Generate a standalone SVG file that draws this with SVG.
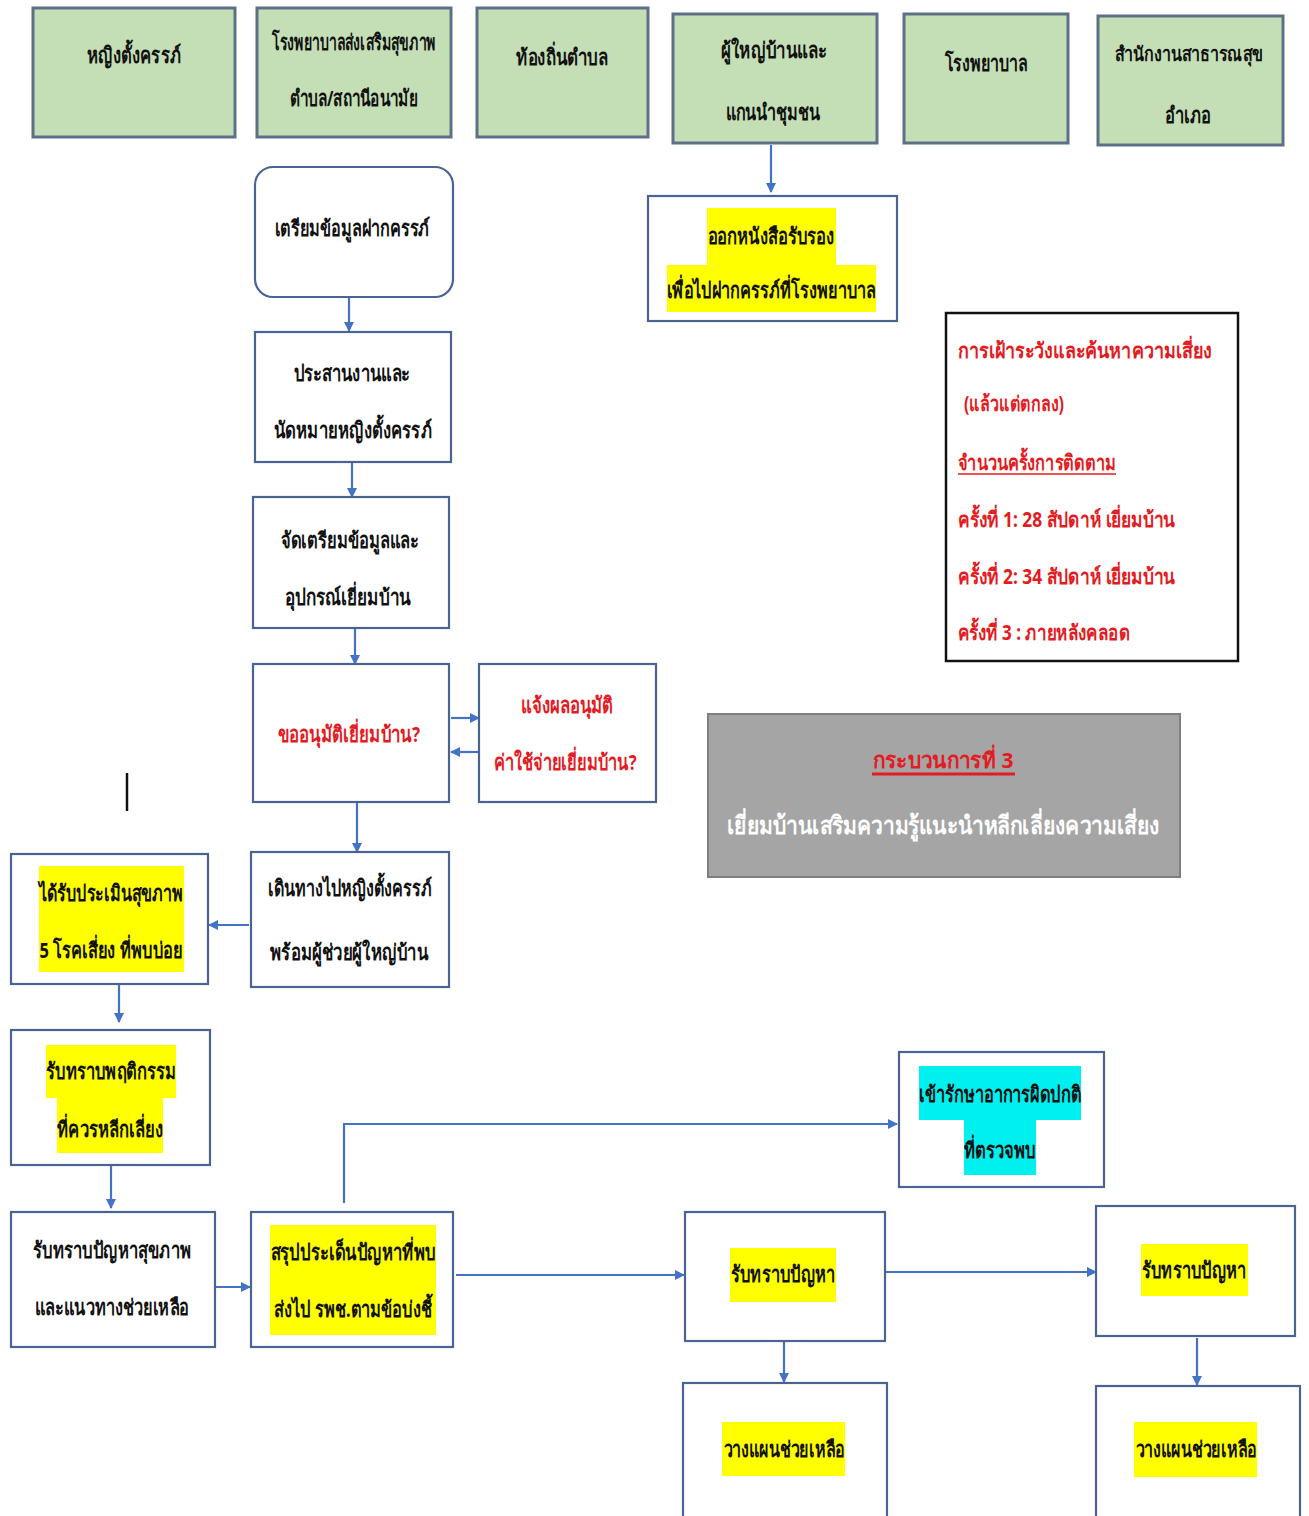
<svg xmlns="http://www.w3.org/2000/svg" width="1309" height="1516" viewBox="0 0 1309 1516">
<defs>
<style>
.g{fill:#c4dfb5;stroke:#5d7088;stroke-width:3}
.b{fill:#fff;stroke:#4a6392;stroke-width:2.2}
.t{font-family:"Noto Sans","DejaVu Sans",sans-serif;font-size:22px;fill:#111;text-anchor:middle;font-weight:bold}
.r{fill:#e31b23}
.s{text-anchor:start;font-size:21px}
.w{fill:#fff}
.y{fill:#ffff00}
.c{fill:#00f0f0}
.cn{stroke:#4472c4;stroke-width:2.2;fill:none}
</style>
<marker id="ah" markerWidth="10" markerHeight="10" refX="9" refY="5" orient="auto" markerUnits="userSpaceOnUse">
<path d="M0,0 L10,5 L0,10 Z" fill="#4472c4"/>
</marker>
</defs>
<rect width="1309" height="1516" fill="#fff"/>

<g id="connectors">
<line class="cn" x1="771" y1="145" x2="771" y2="192" marker-end="url(#ah)"/>
<line class="cn" x1="349" y1="297" x2="349" y2="331" marker-end="url(#ah)"/>
<line class="cn" x1="352" y1="462" x2="352" y2="497" marker-end="url(#ah)"/>
<line class="cn" x1="355" y1="628" x2="355" y2="664" marker-end="url(#ah)"/>
<line class="cn" x1="451" y1="718" x2="479" y2="718" marker-end="url(#ah)"/>
<line class="cn" x1="479" y1="752" x2="451" y2="752" marker-end="url(#ah)"/>
<line class="cn" x1="357" y1="802" x2="357" y2="852" marker-end="url(#ah)"/>
<line class="cn" x1="249" y1="925" x2="209" y2="925" marker-end="url(#ah)"/>
<line class="cn" x1="119" y1="984" x2="119" y2="1022" marker-end="url(#ah)"/>
<line class="cn" x1="111" y1="1165" x2="111" y2="1208" marker-end="url(#ah)"/>
<line class="cn" x1="215" y1="1287" x2="250" y2="1287" marker-end="url(#ah)"/>
<polyline class="cn" points="344,1203 344,1124 897,1124" marker-end="url(#ah)"/>
<line class="cn" x1="456" y1="1275" x2="684" y2="1275" marker-end="url(#ah)"/>
<line class="cn" x1="885" y1="1272" x2="1096" y2="1272" marker-end="url(#ah)"/>
<line class="cn" x1="784" y1="1341" x2="784" y2="1382" marker-end="url(#ah)"/>
<line class="cn" x1="1197" y1="1338" x2="1197" y2="1385" marker-end="url(#ah)"/>
</g>

<line x1="127" y1="773" x2="127" y2="811" stroke="#111" stroke-width="2.5"/>

<g id="n1"><rect class="g" x="33" y="8" width="202" height="129"/>
<text class="t" x="134" y="63" textLength="94" lengthAdjust="spacingAndGlyphs">หญิงตั้งครรภ์</text></g>
<g id="n2"><rect class="g" x="257" y="8" width="194" height="129"/>
<text class="t" x="354" y="50" textLength="164" lengthAdjust="spacingAndGlyphs">โรงพยาบาลส่งเสริมสุขภาพ</text>
<text class="t" x="354" y="106" textLength="128" lengthAdjust="spacingAndGlyphs">ตำบล/สถานีอนามัย</text></g>
<g id="n3"><rect class="g" x="477" y="8" width="171" height="129"/>
<text class="t" x="562" y="65" textLength="92" lengthAdjust="spacingAndGlyphs">ท้องถิ่นตำบล</text></g>
<g id="n4"><rect class="g" x="673" y="14" width="204" height="129"/>
<text class="t" x="774" y="58" textLength="106" lengthAdjust="spacingAndGlyphs">ผู้ใหญ่บ้านและ</text>
<text class="t" x="773" y="120" textLength="95" lengthAdjust="spacingAndGlyphs">แกนนำชุมชน</text></g>
<g id="n5"><rect class="g" x="904" y="14" width="164" height="129"/>
<text class="t" x="986" y="71" textLength="83" lengthAdjust="spacingAndGlyphs">โรงพยาบาล</text></g>
<g id="n6"><rect class="g" x="1098" y="16" width="185" height="129"/>
<text class="t" x="1189" y="61" style="font-size:20px" textLength="149" lengthAdjust="spacingAndGlyphs">สำนักงานสาธารณสุข</text>
<text class="t" x="1188" y="123" textLength="46" lengthAdjust="spacingAndGlyphs">อำเภอ</text></g>

<g id="n7"><rect class="b" x="255" y="167" width="198" height="130" rx="18"/>
<text class="t" x="352" y="236" textLength="155" lengthAdjust="spacingAndGlyphs">เตรียมข้อมูลฝากครรภ์</text></g>

<g id="n8"><rect class="b" x="648" y="196" width="249" height="125"/>
<rect class="y" x="707" y="208" width="129" height="57"/>
<rect class="y" x="667" y="265" width="209" height="47"/>
<text class="t" x="771" y="244" textLength="127" lengthAdjust="spacingAndGlyphs">ออกหนังสือรับรอง</text>
<text class="t" x="771" y="298" textLength="209" lengthAdjust="spacingAndGlyphs">เพื่อไปฝากครรภ์ที่โรงพยาบาล</text></g>

<g id="n9"><rect class="b" x="255" y="332" width="196" height="130"/>
<text class="t" x="352" y="381" textLength="117" lengthAdjust="spacingAndGlyphs">ประสานงานและ</text>
<text class="t" x="353" y="438" textLength="158" lengthAdjust="spacingAndGlyphs">นัดหมายหญิงตั้งครรภ์</text></g>

<g id="n10"><rect class="b" x="253" y="497" width="196" height="131"/>
<text class="t" x="350" y="548" textLength="138" lengthAdjust="spacingAndGlyphs">จัดเตรียมข้อมูลและ</text>
<text class="t" x="348" y="605" textLength="126" lengthAdjust="spacingAndGlyphs">อุปกรณ์เยี่ยมบ้าน</text></g>

<g id="n11"><rect class="b" x="253" y="664" width="196" height="138"/>
<text class="t r" x="349" y="742" textLength="142" lengthAdjust="spacingAndGlyphs">ขออนุมัติเยี่ยมบ้าน?</text></g>

<g id="n12"><rect class="b" x="479" y="664" width="177" height="138"/>
<text class="t r" x="567" y="713" textLength="92" lengthAdjust="spacingAndGlyphs">แจ้งผลอนุมัติ</text>
<text class="t r" x="565" y="770" textLength="143" lengthAdjust="spacingAndGlyphs">ค่าใช้จ่ายเยี่ยมบ้าน?</text></g>

<g id="n13"><rect fill="#fff" stroke="#111" stroke-width="2.5" x="946" y="313" width="292" height="348"/>
<text class="t r s" x="958" y="358" textLength="254" lengthAdjust="spacingAndGlyphs">การเฝ้าระวังและค้นหาความเสี่ยง</text>
<text class="t r s" x="964" y="411" textLength="100" lengthAdjust="spacingAndGlyphs">(แล้วแต่ตกลง)</text>
<text class="t r s" x="958" y="470" textLength="158" lengthAdjust="spacingAndGlyphs">จำนวนครั้งการติดตาม</text>
<line x1="958" y1="474" x2="1116" y2="474" stroke="#e31b23" stroke-width="1.5"/>
<text class="t r s" x="958" y="527" textLength="217" lengthAdjust="spacingAndGlyphs">ครั้งที่ 1: 28 สัปดาห์ เยี่ยมบ้าน</text>
<text class="t r s" x="958" y="584" textLength="217" lengthAdjust="spacingAndGlyphs">ครั้งที่ 2: 34 สัปดาห์ เยี่ยมบ้าน</text>
<text class="t r s" x="958" y="640" textLength="172" lengthAdjust="spacingAndGlyphs">ครั้งที่ 3 : ภายหลังคลอด</text></g>

<g id="n14"><rect fill="#a5a5a5" stroke="#7f7f7f" stroke-width="2" x="708" y="714" width="472" height="163"/>
<text class="t r" x="943" y="768" textLength="141" lengthAdjust="spacingAndGlyphs">กระบวนการที่ 3</text>
<line x1="872" y1="774" x2="1015" y2="774" stroke="#e31b23" stroke-width="3"/>
<text class="t w" x="943" y="834" style="font-size:25px" textLength="433" lengthAdjust="spacingAndGlyphs">เยี่ยมบ้านเสริมความรู้แนะนำหลีกเลี่ยงความเสี่ยง</text></g>

<g id="n15"><rect class="b" x="251" y="852" width="198" height="135"/>
<text class="t" x="350" y="896" textLength="164" lengthAdjust="spacingAndGlyphs">เดินทางไปหญิงตั้งครรภ์</text>
<text class="t" x="349" y="960" textLength="158" lengthAdjust="spacingAndGlyphs">พร้อมผู้ช่วยผู้ใหญ่บ้าน</text></g>

<g id="n16"><rect class="b" x="11" y="854" width="197" height="130"/>
<rect class="y" x="39" y="866" width="145" height="106"/>
<text class="t" x="111" y="901" textLength="144" lengthAdjust="spacingAndGlyphs">ได้รับประเมินสุขภาพ</text>
<text class="t" x="111" y="958" textLength="143" lengthAdjust="spacingAndGlyphs">5 โรคเสี่ยง ที่พบบ่อย</text></g>

<g id="n17"><rect class="b" x="11" y="1030" width="199" height="135"/>
<rect class="y" x="46" y="1045" width="130" height="53"/>
<rect class="y" x="57" y="1098" width="106" height="55"/>
<text class="t" x="111" y="1079" textLength="130" lengthAdjust="spacingAndGlyphs">รับทราบพฤติกรรม</text>
<text class="t" x="110" y="1137" textLength="106" lengthAdjust="spacingAndGlyphs">ที่ควรหลีกเลี่ยง</text></g>

<g id="n18"><rect class="b" x="11" y="1212" width="204" height="135"/>
<text class="t" x="112" y="1258" textLength="158" lengthAdjust="spacingAndGlyphs">รับทราบปัญหาสุขภาพ</text>
<text class="t" x="112" y="1315" textLength="154" lengthAdjust="spacingAndGlyphs">และแนวทางช่วยเหลือ</text></g>

<g id="n19"><rect class="b" x="251" y="1212" width="202" height="135"/>
<rect class="y" x="270" y="1225" width="166" height="110"/>
<text class="t" x="353" y="1260" textLength="165" lengthAdjust="spacingAndGlyphs">สรุปประเด็นปัญหาที่พบ</text>
<text class="t" x="353" y="1317" textLength="158" lengthAdjust="spacingAndGlyphs">ส่งไป รพช.ตามข้อบ่งชี้</text></g>

<g id="n20"><rect class="b" x="899" y="1052" width="205" height="135"/>
<rect class="c" x="919" y="1066" width="162" height="54"/>
<rect class="c" x="964" y="1120" width="72" height="55"/>
<text class="t" x="1000" y="1102" textLength="162" lengthAdjust="spacingAndGlyphs">เข้ารักษาอาการผิดปกติ</text>
<text class="t" x="1000" y="1158" textLength="72" lengthAdjust="spacingAndGlyphs">ที่ตรวจพบ</text></g>

<g id="n21"><rect class="b" x="685" y="1212" width="200" height="129"/>
<rect class="y" x="730" y="1248" width="106" height="54"/>
<text class="t" x="783" y="1282" textLength="104" lengthAdjust="spacingAndGlyphs">รับทราบปัญหา</text></g>

<g id="n22"><rect class="b" x="1096" y="1206" width="199" height="130"/>
<rect class="y" x="1141" y="1244" width="107" height="52"/>
<text class="t" x="1194" y="1278" textLength="104" lengthAdjust="spacingAndGlyphs">รับทราบปัญหา</text></g>

<g id="n23"><rect class="b" x="683" y="1383" width="204" height="140"/>
<rect class="y" x="722" y="1422" width="123" height="54"/>
<text class="t" x="784" y="1457" textLength="121" lengthAdjust="spacingAndGlyphs">วางแผนช่วยเหลือ</text></g>

<g id="n24"><rect class="b" x="1096" y="1386" width="204" height="140"/>
<rect class="y" x="1134" y="1422" width="123" height="55"/>
<text class="t" x="1196" y="1457" textLength="121" lengthAdjust="spacingAndGlyphs">วางแผนช่วยเหลือ</text></g>
</svg>
